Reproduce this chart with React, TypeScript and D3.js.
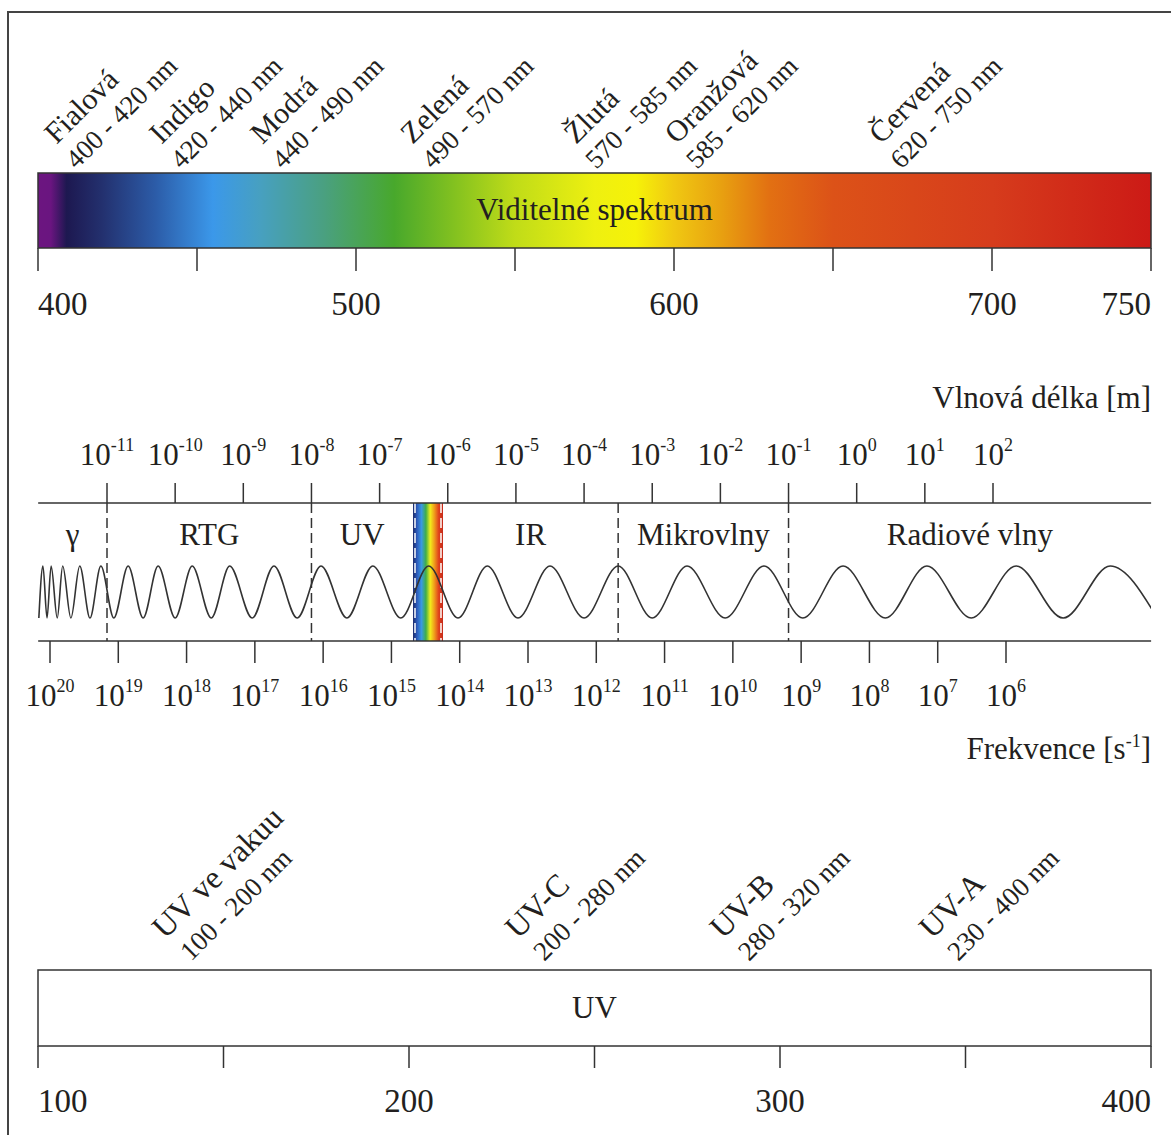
import React, { useRef, useEffect } from 'react'
import * as d3 from 'd3'

// visible spectrum (nm)
const visTicks = [400, 450, 500, 550, 600, 650, 700, 750]
const visTickLabels = [400, 500, 600, 700, 750]
const colorNames = ['Fialová', 'Indigo', 'Modrá', 'Zelená', 'Žlutá', 'Oranžová', 'Červená']
const colorRanges = ['400 - 420 nm', '420 - 440 nm', '440 - 490 nm', '490 - 570 nm', '570 - 585 nm', '585 - 620 nm', '620 - 750 nm']
const colorLabelAt = [405.8, 438.8, 470.6, 517.8, 569.2, 600.9, 665.1]
const spectrumNm = [400, 404, 409, 420, 437, 455, 470, 490, 512, 530, 550, 575, 588, 600, 615, 630, 650, 700, 750]
const spectrumColors = ['#6c1580', '#6a1580', '#1d1850', '#23306e', '#2c5ca8', '#3b98ea', '#47a0c0', '#4aa080', '#48a82c',
  '#80c020', '#c0dc18', '#eef010', '#f6f208', '#f0c812', '#e8a010', '#e27012', '#dc5218', '#d63c1c', '#cc1a16']

// electromagnetic spectrum (log10 of wavelength in m)
const wlExponents = [-11, -10, -9, -8, -7, -6, -5, -4, -3, -2, -1, 0, 1, 2]
const freqExponents = [20, 19, 18, 17, 16, 15, 14, 13, 12, 11, 10, 9, 8, 7, 6]
const axisExtent = [-12.01, 4.32]
const dividers = [-11, -8, -3.5, -1]
const visibleBand = [-6.51, -6.07]
const regionNames = ['γ', 'RTG', 'UV', 'IR', 'Mikrovlny', 'Radiové vlny']
const regionStart = [-12.01, -11, -8, -6.07, -3.5, -1]
const regionEnd = [-11, -8, -6.51, -3.5, -1, 4.32]
const bandColors = ['#1b2a6b', '#2e5fc0', '#3a9ae0', '#3fae48', '#f2ee1a', '#ef9a1c', '#e0401c', '#c52a1a']
// wave extrema, alternating trough / peak
const waveExtrema = [-12.00, -11.94, -11.88, -11.82, -11.73, -11.65, -11.53, -11.40, -11.25, -11.09, -10.90, -10.69,
  -10.47, -10.25, -10.00, -9.75, -9.47, -9.20, -8.87, -8.55, -8.21, -7.86, -7.48, -7.10, -6.69, -6.28, -5.85,
  -5.42, -4.97, -4.50, -4.00, -3.50, -3.00, -2.49, -1.93, -1.36, -0.79, -0.20, 0.42, 1.03, 1.68, 2.34, 3.03, 3.72, 4.41]

// UV detail (nm)
const uvTicks = [100, 150, 200, 250, 300, 350, 400]
const uvTickLabels = [100, 200, 300, 400]
const uvNames = ['UV ve vakuu', 'UV-C', 'UV-B', 'UV-A']
const uvRanges = ['100 - 200 nm', '200 - 280 nm', '280 - 320 nm', '230 - 400 nm']
const uvLabelAt = [134.2, 229.4, 284.6, 341]

const W = 1171, H = 1135
const FONT = '"Liberation Serif", "Times New Roman", serif'
const INK = '#231f20'

const App = () => {
  const svgRef = useRef(null)

  useEffect(() => {
    const svg = d3.select(svgRef.current)
    svg.selectAll('*').remove()

    const left = 38, right = 1151
    const xVis = d3.scaleLinear().domain([400, 750]).range([left, right])
    const xWl = d3.scaleLinear().domain([-11, 2]).range([107, 993])
    const xFreq = d3.scaleLinear().domain([20, 6]).range([50, 1006])
    const xUv = d3.scaleLinear().domain([100, 400]).range([left, right])
    const yWave = d3.scaleLinear().domain([-1, 1]).range([618, 566])

    svg.append('rect').attr('width', W).attr('height', H).attr('fill', '#fff')
    svg.append('rect').attr('x', 8).attr('y', 12).attr('width', W + 20).attr('height', H + 20)
      .attr('fill', 'none').attr('stroke', '#444').attr('stroke-width', 2)

    const defs = svg.append('defs')
    const grad = defs.append('linearGradient').attr('id', 'vis').attr('gradientUnits', 'userSpaceOnUse')
      .attr('x1', xVis(400)).attr('x2', xVis(750)).attr('y1', 0).attr('y2', 0)
    grad.selectAll('stop').data(spectrumNm).join('stop')
      .attr('offset', d => (d - 400) / 350).attr('stop-color', (_, i) => spectrumColors[i])
    const bandGrad = defs.append('linearGradient').attr('id', 'band')
    bandGrad.selectAll('stop').data(bandColors).join('stop')
      .attr('offset', (_, i) => i / (bandColors.length - 1)).attr('stop-color', d => d)
    defs.append('clipPath').attr('id', 'waveClip').append('rect')
      .attr('x', left).attr('y', 500).attr('width', right - left).attr('height', 140)

    const g = svg.append('g').attr('font-family', FONT).attr('fill', INK)

    // two-line labels tilted by 45 degrees
    const rotatedLabels = (names, ranges, xs, y0, nameSize, rangeSize, dx, dy) => {
      const lab = g.selectAll(null).data(names).join('g')
        .attr('transform', (_, i) => `translate(${xs[i]},${y0}) rotate(-45)`)
      lab.append('text').attr('font-size', nameSize).text(d => d)
      lab.append('text').attr('font-size', rangeSize).attr('x', dx).attr('y', dy).text((_, i) => ranges[i])
    }

    // ---- visible spectrum bar
    const barTop = 173, barBot = 248
    rotatedLabels(colorNames, colorRanges, colorLabelAt.map(xVis), 145, 30, 27, -3.5, 32)
    g.append('rect').attr('x', left).attr('y', barTop).attr('width', right - left).attr('height', barBot - barTop)
      .attr('fill', 'url(#vis)').attr('stroke', '#333').attr('stroke-width', 1.5)
    g.append('text').attr('x', xVis(575)).attr('y', 220).attr('text-anchor', 'middle')
      .attr('font-size', 31).text('Viditelné spektrum')
    g.selectAll(null).data(visTicks).join('line')
      .attr('x1', d => xVis(d)).attr('x2', d => xVis(d)).attr('y1', barBot).attr('y2', 271)
      .attr('stroke', '#333').attr('stroke-width', 1.5)
    g.selectAll(null).data(visTickLabels).join('text')
      .attr('x', d => xVis(d)).attr('y', 315).attr('font-size', 33)
      .attr('text-anchor', (_, i) => i === 0 ? 'start' : i === visTickLabels.length - 1 ? 'end' : 'middle')
      .text(d => d)

    // ---- electromagnetic spectrum
    const topLine = 503, botLine = 641
    g.append('text').attr('x', right).attr('y', 408).attr('text-anchor', 'end').attr('font-size', 31)
      .text('Vlnová délka [m]')
    const wlLab = g.selectAll(null).data(wlExponents).join('text')
      .attr('x', d => xWl(d)).attr('y', 465).attr('text-anchor', 'middle').attr('font-size', 31)
    wlLab.append('tspan').text('10')
    wlLab.append('tspan').attr('dy', -14).attr('font-size', 18).text(d => d)
    g.selectAll(null).data(wlExponents).join('line')
      .attr('x1', d => xWl(d)).attr('x2', d => xWl(d)).attr('y1', 483).attr('y2', topLine)
      .attr('stroke', '#333').attr('stroke-width', 1.5)

    g.append('rect').attr('x', xWl(visibleBand[0])).attr('y', topLine)
      .attr('width', xWl(visibleBand[1]) - xWl(visibleBand[0])).attr('height', botLine - topLine)
      .attr('fill', 'url(#band)')
    g.selectAll(null).data([xWl(visibleBand[0]) + 2, xWl(visibleBand[1]) - 2]).join('line')
      .attr('x1', d => d).attr('x2', d => d).attr('y1', topLine).attr('y2', botLine)
      .attr('stroke', '#fff').attr('stroke-width', 1.5).attr('stroke-dasharray', '10,5')

    g.selectAll(null).data(dividers).join('line')
      .attr('x1', d => xWl(d)).attr('x2', d => xWl(d)).attr('y1', topLine).attr('y2', botLine)
      .attr('stroke', '#333').attr('stroke-width', 1.5).attr('stroke-dasharray', '10,5')

    g.selectAll(null).data(regionNames).join('text')
      .attr('x', (_, i) => xWl((regionStart[i] + regionEnd[i]) / 2)).attr('y', 545)
      .attr('text-anchor', 'middle').attr('font-size', 31).text(d => d)

    const wave = d3.line()
      .x(d => xWl(d))
      .y((_, i) => yWave(i % 2 === 0 ? -1 : 1))
      .curve(d3.curveMonotoneX)
    g.append('path').attr('d', wave(waveExtrema)).attr('clip-path', 'url(#waveClip)')
      .attr('fill', 'none').attr('stroke', '#333').attr('stroke-width', 1.6)

    g.selectAll(null).data([topLine, botLine]).join('line')
      .attr('x1', xWl(axisExtent[0])).attr('x2', xWl(axisExtent[1])).attr('y1', d => d).attr('y2', d => d)
      .attr('stroke', '#333').attr('stroke-width', 1.5)

    g.selectAll(null).data(freqExponents).join('line')
      .attr('x1', d => xFreq(d)).attr('x2', d => xFreq(d)).attr('y1', botLine).attr('y2', 663)
      .attr('stroke', '#333').attr('stroke-width', 1.5)
    const fLab = g.selectAll(null).data(freqExponents).join('text')
      .attr('x', d => xFreq(d)).attr('y', 706).attr('text-anchor', 'middle').attr('font-size', 31)
    fLab.append('tspan').text('10')
    fLab.append('tspan').attr('dy', -14).attr('font-size', 18).text(d => d)
    const fTitle = g.append('text').attr('x', right).attr('y', 759).attr('text-anchor', 'end').attr('font-size', 31)
    fTitle.append('tspan').text('Frekvence [s')
    fTitle.append('tspan').attr('dy', -12).attr('font-size', 18).text('-1')
    fTitle.append('tspan').attr('dy', 12).text(']')

    // ---- UV bar
    const uvTop = 970, uvBot = 1046
    rotatedLabels(uvNames, uvRanges, uvLabelAt.map(xUv), 940, 32, 27, 3, 34)
    g.append('rect').attr('x', left).attr('y', uvTop).attr('width', right - left).attr('height', uvBot - uvTop)
      .attr('fill', '#fff').attr('stroke', '#333').attr('stroke-width', 1.5)
    g.append('text').attr('x', xUv(250)).attr('y', 1018).attr('text-anchor', 'middle')
      .attr('font-size', 31).text('UV')
    g.selectAll(null).data(uvTicks).join('line')
      .attr('x1', d => xUv(d)).attr('x2', d => xUv(d)).attr('y1', uvBot).attr('y2', 1068)
      .attr('stroke', '#333').attr('stroke-width', 1.5)
    g.selectAll(null).data(uvTickLabels).join('text')
      .attr('x', d => xUv(d)).attr('y', 1112).attr('font-size', 33)
      .attr('text-anchor', (_, i) => i === 0 ? 'start' : i === uvTickLabels.length - 1 ? 'end' : 'middle')
      .text(d => d)
  }, [])

  return (
    <svg ref={svgRef} width={W} height={H}
      style={{ position: 'absolute', left: 0, top: 0, display: 'block' }}></svg>
  )
}

export default App
